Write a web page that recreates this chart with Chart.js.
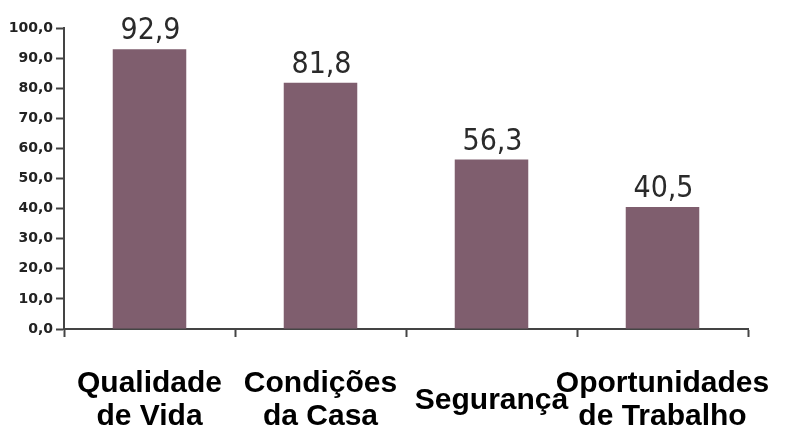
<!DOCTYPE html>
<html>
<head>
<meta charset="utf-8">
<script src="https://cdn.jsdelivr.net/npm/chart.js@4.4.1/dist/chart.umd.min.js"></script>
<style>
    html, body { margin: 0; padding: 0; background: #ffffff; }
    #wrap { width: 788px; height: 436px; position: relative; }
</style>
</head>
<body>
<div id="wrap"><canvas id="chart"></canvas></div>
<script>
const categories = [
    ['Qualidade', 'de Vida'],
    ['Condições', 'da Casa'],
    'Segurança',
    ['Oportunidades', 'de Trabalho']
];
const values = [92.9, 81.8, 56.3, 40.5];
const yTickLabels = ['0,0', '10,0', '20,0', '30,0', '40,0', '50,0', '60,0', '70,0', '80,0', '90,0', '100,0'];

const axisColor = '#444444';
const barColor = '#7f5e6e';

function formatValue(v) {
    return v.toFixed(1).replace('.', ',');
}

// number above each bar
const valueLabels = {
    id: 'valueLabels',
    afterDatasetsDraw(chart) {
        const ctx = chart.ctx;
        const meta = chart.getDatasetMeta(0);
        ctx.save();
        ctx.font = '30px "DejaVu Sans Condensed", "DejaVu Sans"';
        ctx.fillStyle = '#2a2a2a';
        ctx.textAlign = 'center';
        ctx.textBaseline = 'alphabetic';
        meta.data.forEach((bar, i) => {
            ctx.fillText(formatValue(values[i]), bar.x + 1, bar.y - 10);
        });
        ctx.restore();
    }
};

new Chart(document.getElementById('chart'), {
    type: 'bar',
    data: {
        labels: categories,
        datasets: [{
            data: values,
            backgroundColor: barColor,
            borderWidth: 0,
            barPercentage: 0.43,
            categoryPercentage: 1.0
        }]
    },
    options: {
        responsive: true,
        maintainAspectRatio: false,
        animation: false,
        layout: { padding: { top: 28, right: 40, bottom: 0, left: 0 } },
        plugins: {
            legend: { display: false },
            tooltip: { enabled: false }
        },
        scales: {
            x: {
                grid: {
                    offset: true,
                    drawOnChartArea: false,
                    drawTicks: true,
                    tickLength: 8,
                    tickWidth: 2,
                    tickColor: axisColor
                },
                border: { color: axisColor, width: 2 },
                ticks: {
                    color: '#000000',
                    font: { family: '"Liberation Sans", Arial, sans-serif', size: 30, weight: 'bold', lineHeight: 1.1 },
                    padding: 47,
                    crossAlign: 'center',
                    maxRotation: 0,
                    autoSkip: false
                },
                afterFit(scale) {
                    scale.height = 107;
                    scale.paddingLeft = 0;
                    scale.paddingRight = 0;
                }
            },
            y: {
                min: 0,
                max: 100,
                ticks: {
                    stepSize: 10,
                    color: '#222222',
                    padding: 3,
                    font: { family: '"DejaVu Sans", sans-serif', size: 14, weight: 'bold' },
                    callback: (v, i) => yTickLabels[i]
                },
                grid: {
                    drawOnChartArea: false,
                    drawTicks: true,
                    tickLength: 8,
                    tickWidth: 2,
                    tickColor: axisColor
                },
                border: { color: axisColor, width: 2 },
                afterFit(scale) {
                    scale.width = 64;
                    scale.paddingTop = 0;
                    scale.paddingBottom = 0;
                }
            }
        }
    },
    plugins: [valueLabels]
});
</script>
</body>
</html>
